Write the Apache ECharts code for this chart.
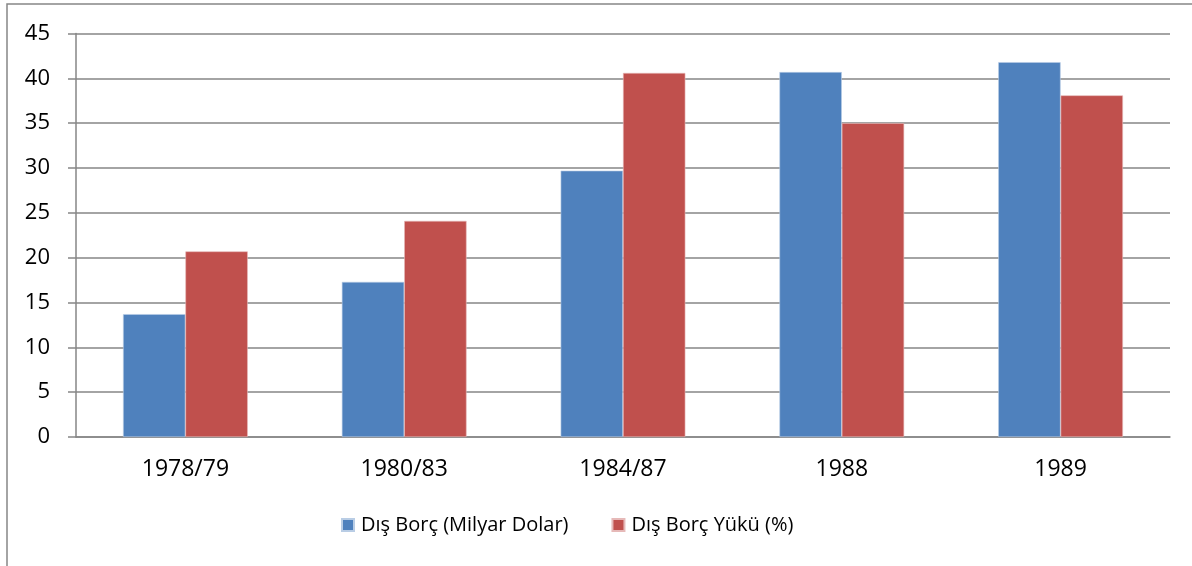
<!DOCTYPE html>
<html>
<head>
<meta charset="utf-8">
<script src="https://cdn.jsdelivr.net/npm/echarts@6/dist/echarts.min.js"></script>
<style>
  html, body { margin: 0; padding: 0; background: #fff; }
  #main { width: 1192px; height: 566px; }
</style>
</head>
<body>
<div id="main"></div>
<script>
var categories = ['1978/79', '1980/83', '1984/87', '1988', '1989'];
var disBorc = [13.7, 17.3, 29.7, 40.7, 41.8];
var borcYuku = [20.7, 24.1, 40.6, 35.0, 38.1];
var seriesNames = ['Dış Borç (Milyar Dolar)', 'Dış Borç Yükü (%)'];

var myChart = echarts.init(document.getElementById('main'));
var fontName = '"Open Sans", "Noto Sans", sans-serif';

var option = {
  animation: false,
  textStyle: { fontFamily: fontName },
  graphic: [{
    type: 'rect',
    shape: { x: 7, y: 4, width: 1200, height: 600 },
    style: { fill: 'none', stroke: '#868686', lineWidth: 1.5 },
    silent: true
  }],
  legend: {
    top: 515,
    left: 341,
    padding: 0,
    itemWidth: 12,
    itemHeight: 12,
    itemGap: 43,
    icon: 'rect',
    textStyle: { fontSize: 20, color: '#000', fontFamily: fontName, padding: [0, 0, 0, 2] },
    data: seriesNames
  },
  grid: { left: 76, right: 22, top: 33.5, bottom: 129, containLabel: false },
  xAxis: {
    type: 'category',
    data: categories,
    axisLine: { lineStyle: { color: '#868686', width: 1.5 } },
    axisTick: { length: 7, lineStyle: { color: '#868686', width: 1.5 } },
    axisLabel: { fontSize: 23, color: '#000', margin: 21, fontFamily: fontName }
  },
  yAxis: {
    type: 'value',
    min: 0,
    max: 45,
    interval: 5,
    axisLine: { show: true, lineStyle: { color: '#868686', width: 1.5 } },
    axisTick: { show: true, length: 8, lineStyle: { color: '#868686', width: 1.5 } },
    axisLabel: { fontSize: 22, color: '#000', margin: 26, fontFamily: fontName },
    splitLine: { lineStyle: { color: '#868686', width: 1.5 } }
  },
  series: [
    {
      name: seriesNames[0],
      type: 'bar',
      data: disBorc,
      barGap: '0%',
      barCategoryGap: '43%',
      itemStyle: { color: '#4F81BD', borderColor: '#B9CDE5', borderWidth: 0.6 }
    },
    {
      name: seriesNames[1],
      type: 'bar',
      data: borcYuku,
      itemStyle: { color: '#C0504D', borderColor: '#E6B9B8', borderWidth: 0.6 }
    }
  ]
};

myChart.setOption(option);
</script>
</body>
</html>
